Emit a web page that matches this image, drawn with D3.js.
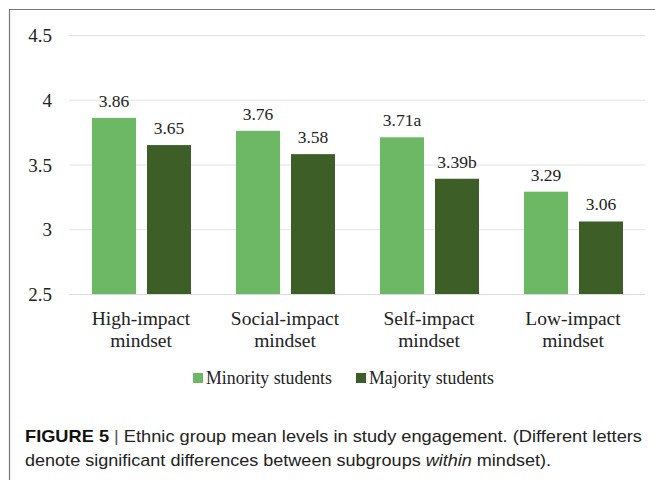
<!DOCTYPE html>
<html>
<head>
<meta charset="utf-8">
<script src="https://cdn.jsdelivr.net/npm/d3@7"></script>
<style>
  body { margin: 0; background: #fff; }
  svg { display: block; }
</style>
</head>
<body>
<svg id="chart" width="655" height="480"></svg>
<script>
// data
var categories = ["High-impact mindset", "Social-impact mindset", "Self-impact mindset", "Low-impact mindset"];
var seriesNames = ["Minority students", "Majority students"];
var minority = [3.86, 3.76, 3.71, 3.29];
var majority = [3.65, 3.58, 3.39, 3.06];
var minorityLabels = ["3.86", "3.76", "3.71a", "3.29"];
var majorityLabels = ["3.65", "3.58", "3.39b", "3.06"];
var yTicks = [2.5, 3, 3.5, 4, 4.5];

var colors = ["#6cb864", "#3d5e27"];
var serif = "'Liberation Serif', 'Times New Roman', serif";
var sans = "'Liberation Sans', Arial, sans-serif";

var svg = d3.select("#chart");

// outer frame (top + left edge only visible)
svg.append("line").attr("x1", 9).attr("x2", 655).attr("y1", 9.5).attr("y2", 9.5)
   .attr("stroke", "#777").attr("stroke-width", 1.2);
svg.append("line").attr("x1", 9.5).attr("x2", 9.5).attr("y1", 9).attr("y2", 480)
   .attr("stroke", "#777").attr("stroke-width", 1.2);

var plotL = 69, plotR = 645, plotT = 35, plotB = 294;

var y = d3.scaleLinear().domain([2.5, 4.5]).range([plotB, plotT]);
var x0 = d3.scaleBand().domain(categories).range([plotL, plotR]).paddingInner(0).paddingOuter(0);
var x1 = d3.scaleBand().domain(seriesNames).range([23, 122]).paddingInner(0.2);

// gridlines
svg.append("g").selectAll("line").data(yTicks).enter().append("line")
   .attr("x1", plotL).attr("x2", plotR)
   .attr("y1", function(d) { return y(d) + 0.5; })
   .attr("y2", function(d) { return y(d) + 0.5; })
   .attr("stroke", function(d) { return d === 2.5 ? "#d6dbe3" : "#e2e2e2"; })
   .attr("stroke-width", 1.2);

// y tick labels
svg.append("g").selectAll("text").data(yTicks).enter().append("text")
   .attr("x", 52).attr("y", function(d) { return y(d) + 7; })
   .attr("text-anchor", "end")
   .attr("font-family", serif).attr("font-size", 19).attr("fill", "#222")
   .text(function(d) { return d3.format("")(d); });

var rows = categories.map(function(c, i) {
  return { cat: c, vals: [minority[i], majority[i]], labs: [minorityLabels[i], majorityLabels[i]] };
});

var groups = svg.append("g").selectAll("g").data(rows).enter().append("g")
   .attr("transform", function(d) { return "translate(" + x0(d.cat) + ",0)"; });

groups.selectAll("rect").data(function(d) {
    return d.vals.map(function(v, j) { return { s: seriesNames[j], v: v, j: j }; });
  }).enter().append("rect")
   .attr("x", function(d) { return x1(d.s); })
   .attr("width", x1.bandwidth())
   .attr("y", function(d) { return y(d.v); })
   .attr("height", function(d) { return y(2.5) - y(d.v); })
   .attr("fill", function(d) { return colors[d.j]; });

groups.selectAll("text.val").data(function(d) {
    return d.vals.map(function(v, j) { return { s: seriesNames[j], v: v, lab: d.labs[j] }; });
  }).enter().append("text")
   .attr("class", "val")
   .attr("x", function(d) { return x1(d.s) + x1.bandwidth() / 2; })
   .attr("y", function(d) { return y(d.v) - 11; })
   .attr("text-anchor", "middle")
   .attr("font-family", serif).attr("font-size", 17.5).attr("fill", "#222")
   .text(function(d) { return d.lab; });

// category labels (two lines)
groups.each(function(d) {
  var words = d.cat.split(" ");
  var t = d3.select(this).append("text")
     .attr("text-anchor", "middle")
     .attr("font-family", serif).attr("font-size", 19.5).attr("fill", "#222");
  t.append("tspan").attr("x", x0.bandwidth() / 2).attr("y", 325).text(words[0]);
  t.append("tspan").attr("x", x0.bandwidth() / 2).attr("y", 347).text(words[1]);
});

// legend
var legendX = [193, 356];
var legend = svg.append("g").selectAll("g").data(seriesNames).enter().append("g")
   .attr("transform", function(d, i) { return "translate(" + legendX[i] + ",373)"; });
legend.append("rect").attr("width", 10).attr("height", 10)
   .attr("fill", function(d, i) { return colors[i]; });
legend.append("text").attr("x", 13).attr("y", 10.5)
   .attr("font-family", serif).attr("font-size", 17.8).attr("fill", "#222")
   .text(function(d) { return d; });

// caption
var cap1 = svg.append("text").attr("x", 25).attr("y", 442)
   .attr("font-family", sans).attr("font-size", 17).attr("fill", "#222")
   .attr("textLength", 617).attr("lengthAdjust", "spacingAndGlyphs");
cap1.append("tspan").attr("font-weight", "bold").attr("fill", "#111").text("FIGURE 5");
cap1.append("tspan").attr("fill", "#555").text(" | ");
cap1.append("tspan").text("Ethnic group mean levels in study engagement. (Different letters");

var cap2 = svg.append("text").attr("x", 25).attr("y", 466)
   .attr("font-family", sans).attr("font-size", 17).attr("fill", "#222")
   .attr("textLength", 526).attr("lengthAdjust", "spacingAndGlyphs");
cap2.append("tspan").text("denote significant differences between subgroups ");
cap2.append("tspan").attr("font-style", "italic").text("within");
cap2.append("tspan").text(" mindset).");
</script>
</body>
</html>
